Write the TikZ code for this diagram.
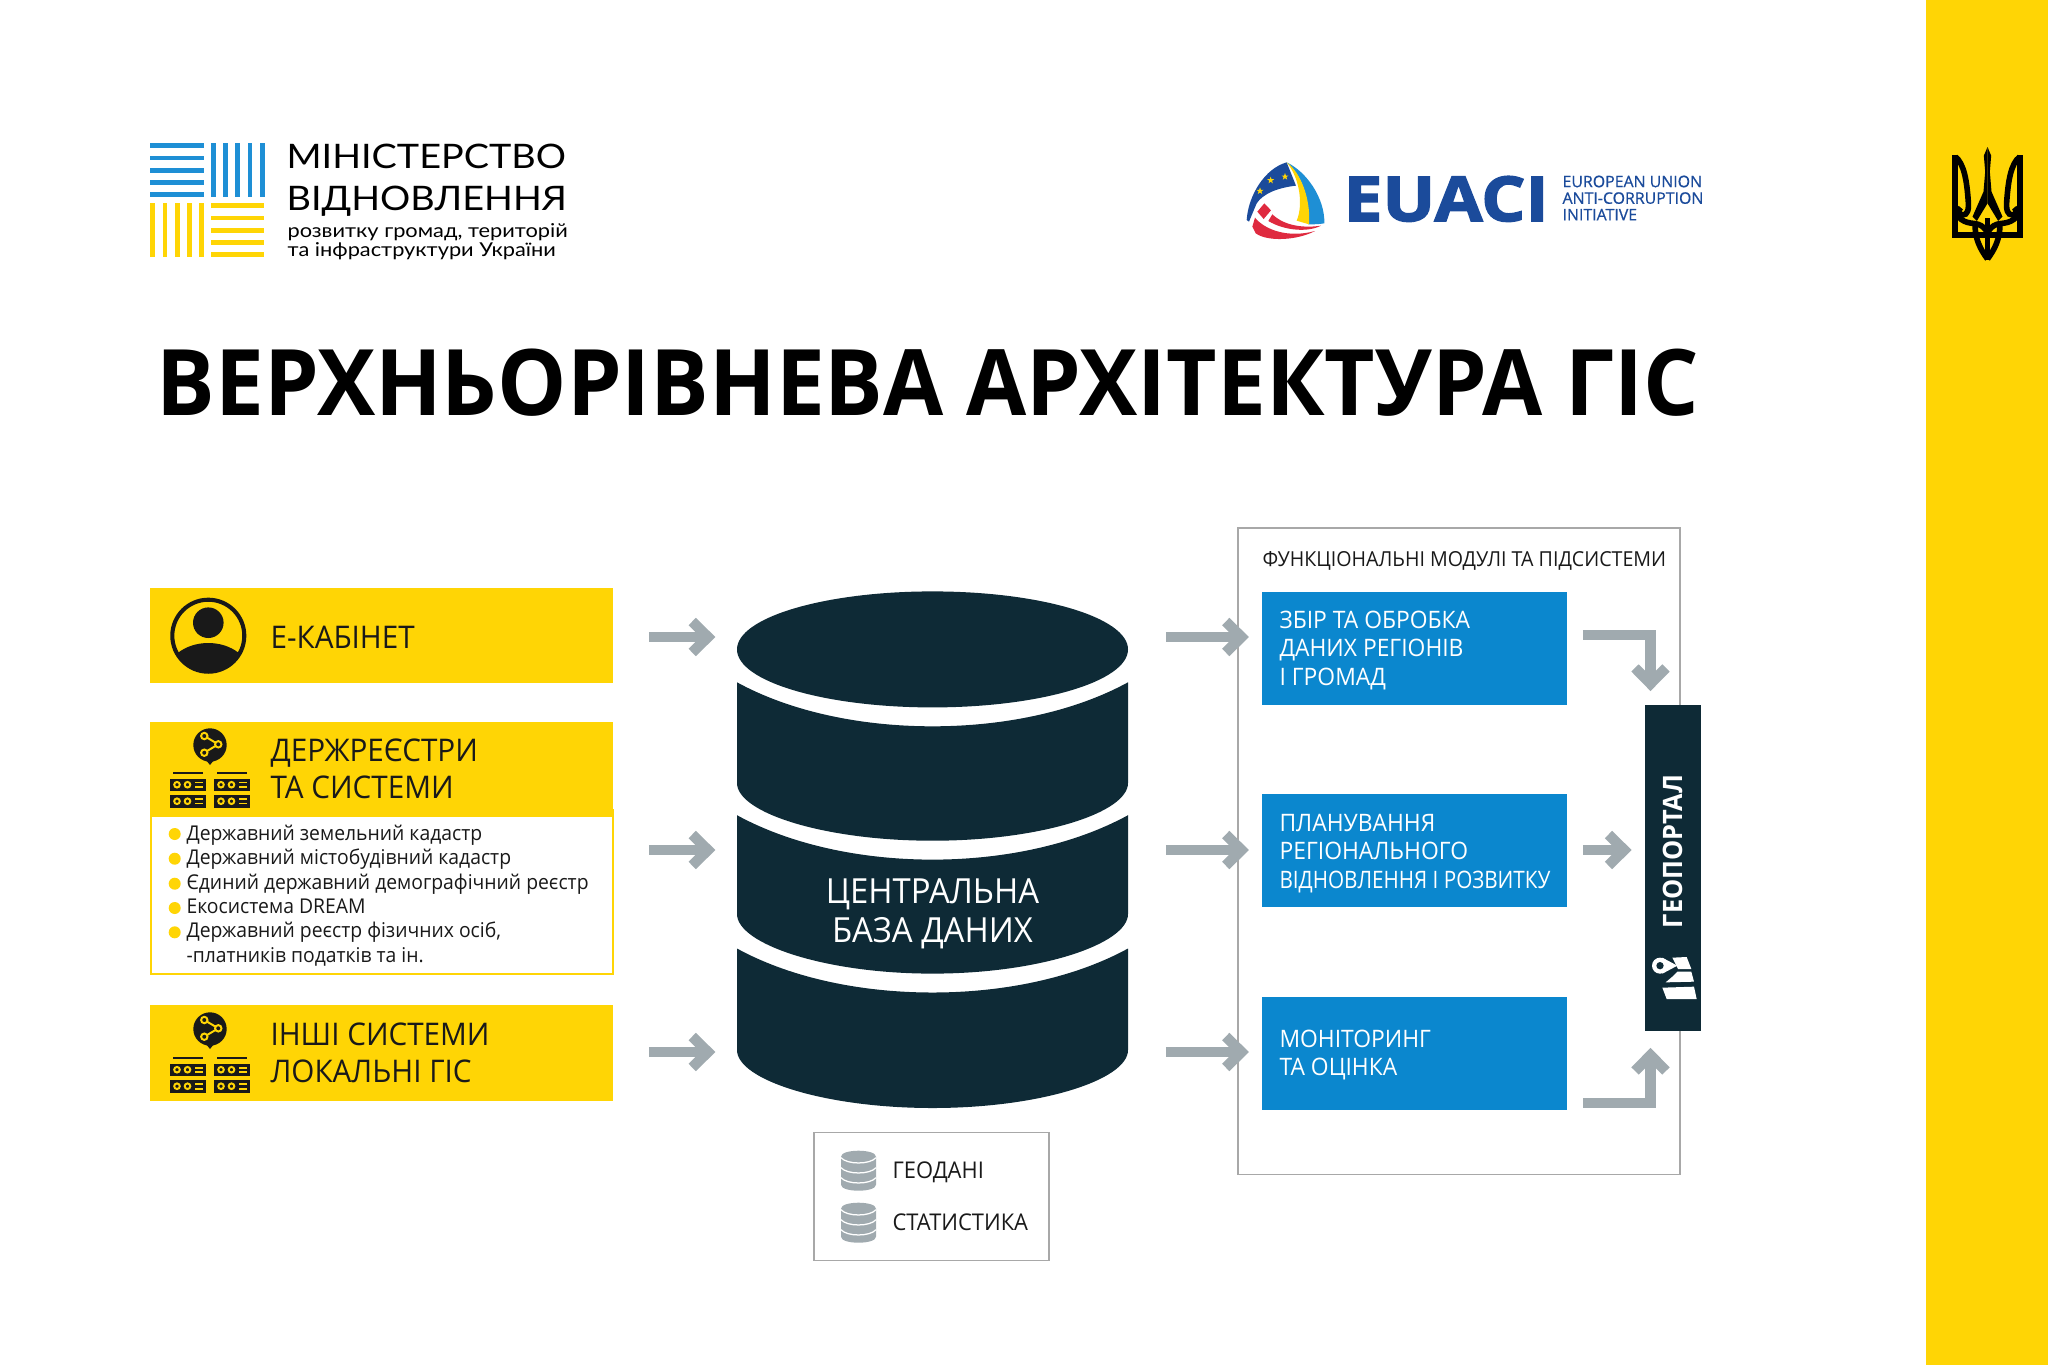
\documentclass[tikz,border=0pt]{standalone}
\usepackage{fontspec}
\setmainfont[FakeStretch=0.95]{Open Sans}
\newfontfamily\narrowfont[FakeStretch=0.86]{Open Sans}
\newfontfamily\logofont[FakeStretch=1.12]{Lato}
\newfontfamily\logosubfont[FakeStretch=1.14]{Lato}
\newfontfamily\euafont[FakeStretch=1.125,FakeBold=2.5]{Open Sans}
\newfontfamily\eusmallfont[FakeStretch=1.0,FakeBold=0.7]{Open Sans}
\usetikzlibrary{arrows.meta}

\definecolor{gisyellow}{HTML}{FFD505}
\definecolor{gisdark}{HTML}{0E2A36}
\definecolor{gisblue}{HTML}{0B87CE}
\definecolor{gisgray}{HTML}{A0AAAF}
\definecolor{framegray}{HTML}{A8A8A8}
\definecolor{minblue}{HTML}{1E8FD5}
\definecolor{euablue}{HTML}{1B4B9B}
\definecolor{euared}{HTML}{DF2A3F}

\tikzset{
  ybox/.style={fill=gisyellow,anchor=north west,inner sep=0pt,minimum width=5.7875cm},
  mbox/.style={fill=gisblue,anchor=north west,inner sep=0pt,minimum width=3.8125cm,minimum height=1.4125cm},
  mtxt/.style={anchor=west,inner sep=0pt,align=left,text=white,font=\fontsize{8.55}{10.2}\selectfont},
  ytxt/.style={anchor=west,inner sep=0pt,align=left,text=black!90,font=\fontsize{11.1}{13.3}\selectfont},
  listtxt/.style={anchor=base west,inner sep=0pt,text=black!90,font=\fontsize{7.24}{8.5}\selectfont},
  legtxt/.style={anchor=base west,inner sep=0pt,text=black!90,font=\fontsize{8.2}{9}\selectfont},
  logotxt/.style={anchor=base west,inner sep=0pt,font=\logofont\fontsize{12}{12}\selectfont},
  subtxt/.style={anchor=base west,inner sep=0pt,font=\logosubfont\fontsize{6.8}{7}\selectfont},
  grayarrow/.style={draw=gisgray,line width=3.7pt,-{Straight Barb[length=5.6pt,width=11pt]}},
  srvpic/.pic={
    \fill[black!90] (3,0) rectangle (33,2);
    \foreach \y in {6.5,23} {
      \fill[black!90] (0,\y) rectangle (36,\y+12.5);
      \draw[gisyellow,line width=0.7pt] (7,\y+6.2) circle (2.8);
      \draw[gisyellow,line width=0.7pt] (17.5,\y+6.2) circle (2.8);
      \draw[gisyellow,line width=0.7pt] (25,\y+4) -- (33,\y+4);
      \draw[gisyellow,line width=0.7pt] (25,\y+8.5) -- (33,\y+8.5);
    }
  },
  sharepic/.pic={
    \fill[black!90] (0,0) circle (16.7);
    \fill[black!90] (-4,15) -- (0,20) -- (4,15) -- cycle;
    \draw[gisyellow,line width=0.7pt] (-5.7,-9) -- (8.3,-0.7) -- (-5.7,7.7);
    \foreach \a/\b in {-5.7/-9,8.3/-0.7,-5.7/7.7} {
      \draw[gisyellow,line width=0.7pt,fill=black!90] (\a,\b) circle (3.2);
    }
  },
  dbpic/.pic={
    \fill[gisgray] (0,6) .. controls (0,-2) and (35,-2) .. (35,6) -- (35,34)
      .. controls (35,42) and (0,42) .. (0,34) -- cycle;
    \foreach \y in {7,17,27} {
      \draw[white,line width=0.45pt] (0,\y) .. controls (6,\y+7) and (29,\y+7) .. (35,\y);
    }
  }
}

\begin{document}
\begin{tikzpicture}[x=0.0125cm,y=-0.0125cm]

  \useasboundingbox (0,0) rectangle (2048,1365);
  \fill[gisyellow] (1926,0) rectangle (2048,1365);

  % ministry logo
  \foreach \i in {0,...,4} {
    \fill[minblue] (150,145.7+12.25*\i-2.4) rectangle (204,145.7+12.25*\i+2.4);
    \fill[minblue] (213.3+12.25*\i-2.4,143.3) rectangle (213.3+12.25*\i+2.4,197.3);
    \fill[gisyellow] (152.7+12.25*\i-2.4,203.3) rectangle (152.7+12.25*\i+2.4,257.3);
    \fill[gisyellow] (211,205.7+12.25*\i-2.4) rectangle (264.3,205.7+12.25*\i+2.4);
  }
  \node[logotxt] (min1) at (286,168.5) {МІНІСТЕРСТВО};
  \node[logotxt] (min2) at (286,210) {ВІДНОВЛЕННЯ};
  \node[subtxt] (min3) at (287,237) {розвитку громад, територій};
  \node[subtxt] (min4) at (287,256) {та інфраструктури України};

  % eu logo
  \begin{scope}[shift={(1235,155)},scale=1/3]
    \fill[euablue] (35,195) .. controls (40,120) and (90,40) .. (155,22) -- (183,92)
      .. controls (130,98) and (85,115) .. (65,145) -- (42,200) -- cycle;
    \fill[minblue] (155,22) .. controls (215,50) and (270,130) .. (268,205)
      .. controls (250,208) and (235,208) .. (220,208) .. controls (225,130) and (200,60) .. (155,22) -- cycle;
    \fill[gisyellow] (155,22) .. controls (195,50) and (228,130) .. (222,208)
      -- (185,197) .. controls (205,150) and (195,70) .. (155,22) -- cycle;
    \fill[euared] (88,145) -- (108,166) -- (86,192) -- (67,170) -- cycle;
    \fill[euared] (112,178) .. controls (140,205) and (190,222) .. (258,212)
      .. controls (220,232) and (150,228) .. (100,198) -- cycle;
    \fill[euared] (60,188) .. controls (90,225) and (160,250) .. (240,228)
      .. controls (190,255) and (100,262) .. (62,235) -- (52,215) -- cycle;
    \foreach \a/\b in {75/108,107/76,150/65} {
      \fill[gisyellow,shift={(\a,\b)}] (0,-11) -- (2.7,-3.5) -- (10.5,-3.5) -- (4.2,1.3) -- (6.5,9) -- (0,4.2)
        -- (-6.5,9) -- (-4.2,1.3) -- (-10.5,-3.5) -- (-2.7,-3.5) -- cycle;
    }
  \end{scope}
  \node[anchor=base west,inner sep=0pt,text=euablue,font=\euafont\bfseries\fontsize{22}{22}\selectfont] (eua) at (1343,221) {EUACI};
  \node[anchor=west,inner sep=0pt,align=left,text=euablue,font=\eusmallfont\fontsize{5.65}{5.9}\selectfont] (eutxt) at (1562,198) {EUROPEAN UNION\\ANTI-CORRUPTION\\INITIATIVE};

  % trident
  \begin{scope}[shift={(1987.5,135)},scale=1/3]
    \foreach \sx in {1,-1} {
      \begin{scope}[xscale=\sx]
        \fill (0,36) -- (-11,62) -- (-7,110) -- (-12,170) -- (-45,245) -- (-32,258) -- (0,205) -- cycle;
        \draw[line width=2pt] (-97,60) -- (-97,300) -- (0,300);
        \draw[line width=2pt] (-97,65) .. controls (-70,85) and (-62,140) .. (-58,195)
          .. controls (-55,225) and (-60,240) .. (-75,240) .. controls (-88,240) and (-88,222) .. (-80,218);
        \draw[line width=2pt] (-97,232) .. controls (-75,270) and (-45,262) .. (-28,268)
          .. controls (-15,272) and (-5,282) .. (0,295);
        \draw[line width=2pt] (-37,262) .. controls (-40,310) and (-20,345) .. (0,372);
      \end{scope}
    }
    \draw[line width=2pt] (0,250) -- (0,375);
  \end{scope}

  \node[anchor=base west,inner sep=0pt,font=\bfseries\fontsize{32.65}{34}\selectfont] (title) at (156,415) {ВЕРХНЬОРІВНЕВА АРХІТЕКТУРА ГІС};

  \coordinate (row1) at (0,637);
  \coordinate (row2) at (0,850);
  \coordinate (row3) at (0,1052);

  % left column
  \node[ybox,minimum height=1.1875cm] (ecab) at (149.5,587) {};
  \node[ybox,draw=gisyellow,fill=white,line width=0.55pt,minimum width=5.775cm,minimum height=2.05cm] (reglist) at (150,809) {};
  \node[ybox,minimum height=1.1875cm] (regs) at (149.5,721) {};
  \node[ybox,minimum height=1.2cm] (other) at (149.5,1004) {};

  \node[ytxt] (ecabtxt) at (270,637) {Е-КАБІНЕТ};
  \node[ytxt] (regstxt) at (270,769) {ДЕРЖРЕЄСТРИ\\ТА СИСТЕМИ};
  \node[ytxt] (othertxt) at (270,1053) {ІНШІ СИСТЕМИ\\ЛОКАЛЬНІ ГІС};

  \draw[black!90,line width=1.45pt] (208.3,635.7) circle (36);
  \fill[black!90] (208.3,622.7) circle (15.3);
  \begin{scope}
    \clip (208.3,635.7) circle (36);
    \fill[black!90] (208.3,675) ellipse (42 and 32);
  \end{scope}

  \pic at (210,745) {sharepic};
  \pic at (170,772) {srvpic};
  \pic at (214,772) {srvpic};
  \pic at (210,1029) {sharepic};
  \pic at (170,1057) {srvpic};
  \pic at (214,1057) {srvpic};

  \foreach \n/\y/\t in {a/840/Державний земельний кадастр,b/864.5/Державний містобудівний кадастр,
      c/889/Єдиний державний демографічний реєстр,d/913/Екосистема DREAM,{e/937.5/Державний реєстр фізичних осіб,},f/962/-платників податків та ін.} {
    \node[listtxt] (list\n) at (186,\y) {\t};
  }
  \foreach \y in {834,858.7,883.7,908,932.3} {
    \fill[gisyellow] (174.7,\y) circle (6);
  }

  % central database
  \node[inner sep=0pt,minimum width=4.8875cm,minimum height=6.47cm] (db) at (932.5,850) {};
  \fill[gisdark] (932.5,649.4) ellipse (195.5 and 58);
  \foreach \ya/\yb/\yc/\yd in {682.3/726.3/783/840.7,815.2/859.6/914/973.6,948.5/992.5/1050/1108} {
    \fill[gisdark] (737,\ya) .. controls (790,\ya+29) and (860,\yb) .. (932.5,\yb)
      .. controls (1005,\yb) and (1075,\ya+29) .. (1128,\ya) -- (1128,\yc)
      .. controls (1128,\yc+30) and (1040,\yd) .. (932.5,\yd)
      .. controls (825,\yd) and (737,\yc+30) .. (737,\yc) -- cycle;
  }
  \node[inner sep=0pt,align=center,text=white,font=\fontsize{12.3}{13.7}\selectfont] (dbtxt) at (932.5,914) {ЦЕНТРАЛЬНА\\БАЗА ДАНИХ};

  % legend
  \node[draw=framegray,line width=0.55pt,inner sep=0pt,anchor=north west,minimum width=2.94cm,minimum height=1.6cm] (legend) at (813,1131.7) {};
  \pic at (841,1150.7) {dbpic};
  \pic at (841,1202.7) {dbpic};
  \node[legtxt] (geotxt) at (892,1178) {ГЕОДАНІ};
  \node[legtxt] (stattxt) at (892,1230.7) {СТАТИСТИКА};

  % modules
  \node[draw=framegray,line width=0.55pt,inner sep=0pt,anchor=north west,minimum width=5.525cm,minimum height=8.08cm] (frame) at (1237,527) {};
  \node[anchor=base west,inner sep=0pt,text=black!90,font=\fontsize{7.35}{9}\selectfont] (frametxt) at (1262,566) {ФУНКЦІОНАЛЬНІ МОДУЛІ ТА ПІДСИСТЕМИ};
  \node[mbox] (m1) at (1261,591) {};
  \node[mbox] (m2) at (1261,793) {};
  \node[mbox] (m3) at (1261,996) {};
  \node[mtxt] (m1txt) at (1279,650.5) {ЗБІР ТА ОБРОБКА\\ДАНИХ РЕГІОНІВ\\І ГРОМАД};
  \node[mtxt] (m2txt) at (1279,853.5) {ПЛАНУВАННЯ\\РЕГІОНАЛЬНОГО\\{\narrowfont ВІДНОВЛЕННЯ І РОЗВИТКУ}};
  \node[mtxt] (m3txt) at (1279,1055) {МОНІТОРИНГ\\ТА ОЦІНКА};

  \node[fill=gisdark,inner sep=0pt,anchor=north west,minimum width=0.7cm,minimum height=4.075cm] (geo) at (1644,704) {};
  \node[rotate=90,inner sep=0pt,text=white,font=\bfseries\fontsize{9.5}{11}\selectfont] (geotitle) at (1672.7,851.5) {ГЕОПОРТАЛ};
  \begin{scope}[shift={(1644,935)},scale=1/3]
    \fill[white] (48,92) circle (24);
    \fill[white] (55,68) -- (100,92) -- (55,116) -- cycle;
    \fill[gisdark] (48,92) circle (11);
    \fill[white] (85,68) -- (128,66) -- (142,102) -- (102,102) -- cycle;
    \fill[white] (100,110) -- (142,110) -- (150,140) -- (65,142) -- (85,125) -- cycle;
    \fill[white] (55,158) -- (150,155) -- (158,192) -- (68,192) -- cycle;
  \end{scope}

  % arrows
  \foreach \a/\r/\m in {ecab/row1/m1,regs/row2/m2,other/row3/m3} {
    \draw[grayarrow,shorten <=12.45pt,shorten >=7.47pt] (\a.east |- \r) -- (db.west |- \r);
    \draw[grayarrow,shorten <=13.2pt,shorten >=4.3pt] (db.east |- \r) -- (\m.west |- \r);
  }

  \coordinate (e1) at (1650.5,635);
  \coordinate (e3) at (1650.5,1102.8);
  \draw[grayarrow,shorten <=5.6pt,shorten >=4.6pt] (m1.east |- e1) -- (e1) -- (e1 |- geo.north);
  \draw[grayarrow,shorten <=5.6pt,shorten >=4.4pt] (m2.east |- row2) -- (geo.west |- row2);
  \draw[grayarrow,shorten <=5.6pt,shorten >=5.9pt] (m3.east |- e3) -- (e3) -- (e3 |- geo.south);

\end{tikzpicture}
\end{document}
